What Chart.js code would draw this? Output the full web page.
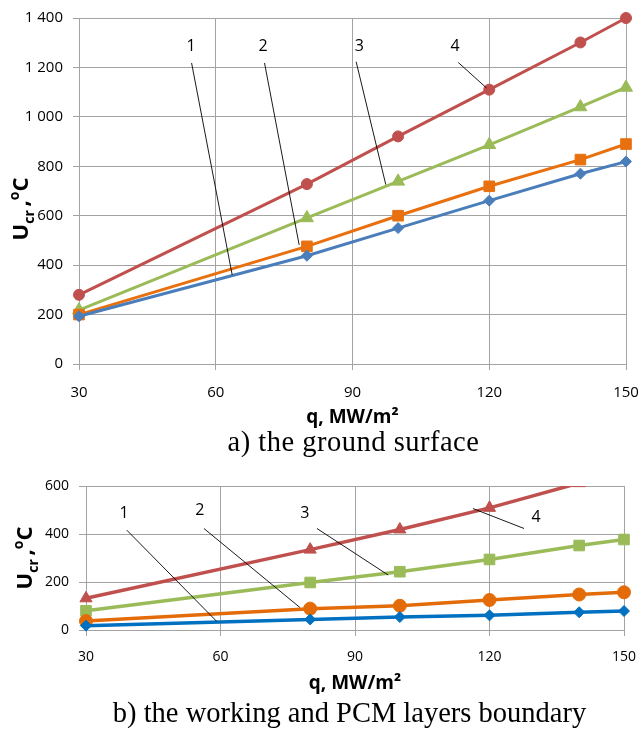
<!DOCTYPE html>
<html><head><meta charset="utf-8">
<script src="https://cdn.jsdelivr.net/npm/chart.js@4"></script>
<style>
html,body{margin:0;padding:0;background:#fff;width:641px;height:731px;overflow:hidden;}
#wrapA{position:absolute;left:0;top:0;width:641px;height:430px;}
#wrapB{position:absolute;left:0;top:460px;width:641px;height:240px;}
.cap{position:absolute;width:641px;text-align:center;font-family:'Liberation Serif','Times New Roman',serif;font-size:28.5px;line-height:32px;color:#000;white-space:nowrap;}
</style></head><body>
<div id="wrapA"><canvas id="cA" width="641" height="430"></canvas></div>
<div class="cap" id="capA" style="left:33px;top:426px;letter-spacing:0.5px;">a) the ground surface</div>
<div id="wrapB"><canvas id="cB" width="641" height="240"></canvas></div>
<div class="cap" id="capB" style="left:29px;top:697px;">b) the working and PCM layers boundary</div>
<script>
// ---- data ----
const qValues = [30, 80, 100, 120, 140, 150];
const xTickValues = [30, 60, 90, 120, 150];
// a) the ground surface
const surf1 = [193, 438, 550, 661, 770, 819];
const surf2 = [200, 476, 600, 719, 827, 890];
const surf3 = [218, 591, 739, 887, 1040, 1119];
const surf4 = [280, 728, 921, 1110, 1301, 1400];
// b) the working and PCM layers boundary
const bound1 = [18, 44, 54, 61, 74, 79];
const bound2 = [37, 89, 101, 125, 148, 157];
const bound3 = [80, 198, 243, 294, 352, 377];
const bound4 = [132, 335, 419, 509, 612, 660];
// callout labels (data coordinates): label, label point, line start, line end
const surfCallouts = [
  ['1', [54.6, 1284], [54.7, 1218], [63.6, 361]],
  ['2', [70.4, 1284], [70.7, 1218], [78.3, 482]],
  ['3', [91.5, 1284], [90.8, 1223], [97.3, 726]],
  ['4', [112.5, 1284], [113.2, 1220], [119.4, 1117]]
];
const boundCallouts = [
  ['1', [38.5, 485], [39.1, 416], [59.2, 35]],
  ['2', [55.4, 499], [56.3, 423], [77.7, 94]],
  ['3', [78.8, 485], [81.5, 423], [97.4, 229]],
  ['4', [130.4, 471], [127.7, 423], [116.3, 506]]
];

const GRID = '#a3a3a3';
function pts(arr){ return qValues.map((q,i)=>({x:q, y:arr[i]})); }
function fmt(v){ return v >= 1000 ? Math.floor(v/1000) + ' ' + String(v%1000).padStart(3,'0') : String(v); }

function calloutPlugin(list){
  return {
    id:'callouts',
    afterDatasetsDraw(chart){
      const {ctx, scales:{x, y}} = chart;
      ctx.save();
      ctx.strokeStyle = '#000'; ctx.lineWidth = 0.9;
      ctx.fillStyle = '#000';
      ctx.font = '16px "Open Sans"';
      ctx.textAlign = 'center'; ctx.textBaseline = 'middle';
      list.forEach(([t, lp, a, b]) => {
        ctx.beginPath();
        ctx.moveTo(x.getPixelForValue(a[0]), y.getPixelForValue(a[1]));
        ctx.lineTo(x.getPixelForValue(b[0]), y.getPixelForValue(b[1]));
        ctx.stroke();
        ctx.fillText(t, x.getPixelForValue(lp[0]), y.getPixelForValue(lp[1]));
      });
      ctx.restore();
    }
  };
}
function yTitlePlugin(cx, cy, base){
  return {
    id:'ytitle',
    afterDraw(chart){
      const ctx = chart.ctx;
      const big = 'bold 22px "Open Sans"', small = 'bold 14px "Open Sans"';
      const parts = [['U', big, 0], ['cr', small, 6], ['\u2009,', big, 0], ['o', small, -9], ['C', big, 0]];
      ctx.save();
      ctx.fillStyle = '#000';
      ctx.textBaseline = 'alphabetic'; ctx.textAlign = 'left';
      let total = 0;
      parts.forEach(p => { ctx.font = p[1]; total += ctx.measureText(p[0]).width; });
      ctx.translate(cx, cy);
      ctx.rotate(-Math.PI/2);
      let xx = -total/2;
      parts.forEach(p => { ctx.font = p[1]; ctx.fillText(p[0], xx, base + p[2]); xx += ctx.measureText(p[0]).width; });
      ctx.restore();
    }
  };
}

const NOCLIP = false;
const CLIPTOP = {left: false, top: 0, right: false, bottom: false};
function ds(arr, color, style, r, lw, clip){
  return {data: pts(arr), borderColor: color, backgroundColor: color, pointBackgroundColor: color,
    pointBorderColor: color, pointStyle: style, pointRadius: r, pointHoverRadius: r, borderWidth: lw,
    pointBorderWidth: 1, tension: 0, clip: clip};
}

function makeChart(id, cfg){
  return new Chart(document.getElementById(id), {
    type: 'line',
    data: {datasets: cfg.datasets},
    options: {
      responsive: false, animation: false, events: [],
      layout: {padding: cfg.padding},
      plugins: {legend: {display: false}, tooltip: {enabled: false}},
      scales: {
        x: {type: 'linear', min: 30, max: 150,
          afterBuildTicks: s => { s.ticks = xTickValues.map(v => ({value: v})); },
          afterFit: s => { s.height = cfg.xHeight; s.paddingLeft = 0; s.paddingRight = 0; },
          ticks: {font: {family: 'Open Sans', size: cfg.tickSize}, color: '#000', padding: cfg.xPad, maxRotation: 0},
          grid: {color: GRID, tickLength: 6, lineWidth: 1},
          border: {color: GRID},
          title: {display: true, text: 'q, MW/m\u00B2', font: {family: 'Open Sans', size: 19, weight: 'bold'}, color: '#000', padding: {top: 0, bottom: cfg.titlePad}}
        },
        y: {min: 0, max: cfg.ymax,
          afterBuildTicks: s => { s.ticks = cfg.yTicks.map(v => ({value: v})); },
          afterFit: s => { s.width = cfg.yWidth; s.paddingTop = 0; s.paddingBottom = 0; },
          ticks: {font: {family: 'Open Sans', size: cfg.tickSize}, color: '#000', padding: cfg.yPad, callback: v => fmt(v)},
          grid: {color: GRID, tickLength: cfg.yTick, lineWidth: 1},
          border: {color: GRID}
        }
      }
    },
    plugins: [calloutPlugin(cfg.callouts), yTitlePlugin(cfg.titleX, cfg.titleY, cfg.titleBase)]
  });
}

makeChart('cA', {
  datasets: [
    ds(surf1, '#4a7ebb', 'rectRot', 5.5, 3, NOCLIP),
    ds(surf2, '#e8700f', 'rect', 7.5, 3, NOCLIP),
    ds(surf3, '#9bbb59', 'triangle', 7.5, 3, NOCLIP),
    ds(surf4, '#c0504d', 'circle', 5.5, 3, NOCLIP)
  ],
  padding: {left: 0, right: 15, top: 18, bottom: 0},
  ymax: 1400, yTicks: [0, 200, 400, 600, 800, 1000, 1200, 1400],
  xHeight: 66, yWidth: 79, tickSize: 15, xPad: 14, yPad: 10, yTick: 6, titlePad: 1,
  callouts: surfCallouts, titleX: 21, titleY: 209, titleBase: 7
});

makeChart('cB', {
  datasets: [
    ds(bound1, '#0070c0', 'rectRot', 5.5, 3.5, NOCLIP),
    ds(bound2, '#e36c09', 'circle', 6.5, 3.5, NOCLIP),
    ds(bound3, '#9bbb59', 'rect', 7.5, 3.5, NOCLIP),
    ds(bound4, '#c0504d', 'triangle', 7, 3.5, CLIPTOP)
  ],
  padding: {left: 0, right: 17, top: 26, bottom: 0},
  ymax: 600, yTicks: [0, 200, 400, 600],
  xHeight: 70, yWidth: 86, tickSize: 14, xPad: 13, yPad: 10, yTick: 7, titlePad: 5,
  callouts: boundCallouts, titleX: 23, titleY: 98, titleBase: 8.5
});
</script>
</body></html>
